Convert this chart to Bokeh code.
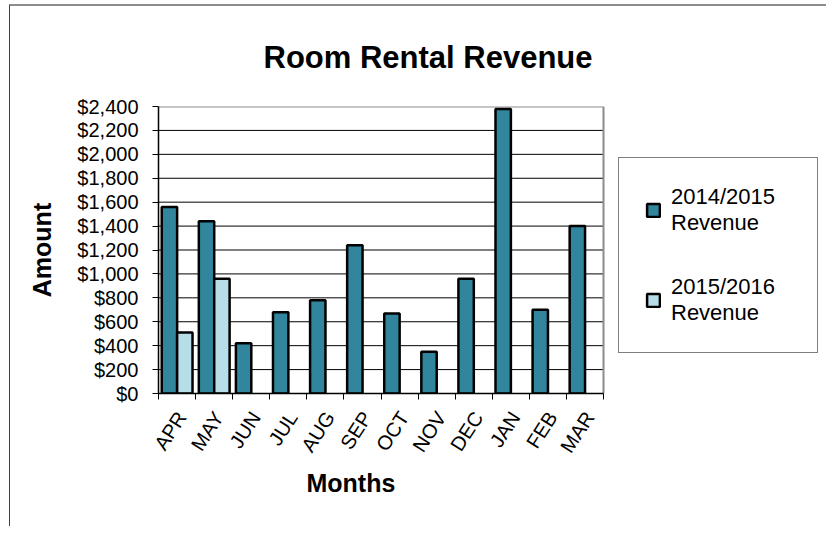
import math
import numpy as np
from bokeh.plotting import figure
from bokeh.models import (ColumnDataSource, FixedTicker, NumeralTickFormatter, Title,
                          Legend, LegendItem, Range1d)
from bokeh.transform import dodge
from bokeh.embed import file_html
from bokeh.resources import INLINE

# ---- data ----
months = ["APR", "MAY", "JUN", "JUL", "AUG", "SEP", "OCT", "NOV", "DEC", "JAN", "FEB", "MAR"]
rev_2014_15 = [1560, 1440, 420, 680, 780, 1240, 670, 350, 960, 2380, 700, 1400]
rev_2015_16 = [510, 960, None, None, None, None, None, None, None, None, None, None]
series_names = ["2014/2015\nRevenue", "2015/2016\nRevenue"]
y_ticks = list(range(0, 2401, 200))
title_text = "Room Rental Revenue"
x_title = "Months"
y_title = "Amount"

FONT = "Liberation Sans"
DARK = "#31859C"
LIGHT = "#B7DEE8"
GRAY = "#8c8c8c"

n = len(months)
centers = [i + 0.5 for i in range(n)]
src1 = ColumnDataSource(dict(x=centers, top=rev_2014_15, m=months))
idx2 = [i for i, v in enumerate(rev_2015_16) if v is not None]
src2 = ColumnDataSource(dict(x=[centers[i] for i in idx2], top=[rev_2015_16[i] for i in idx2]))

# layout (pixels)
W, H = 817, 522
LEFT, TOP, BOTTOM = 148, 100, 135
PLOT_W = 445  # width of the bar area; the rest of the frame holds the legend
FRAME_W = W - LEFT
x_end = n * FRAME_W / PLOT_W
LABEL_SHIFT = 0.12  # month labels sit slightly right of the category centre

p = figure(width=W, height=H, output_backend="svg", toolbar_location=None,
           x_range=Range1d(0, x_end), y_range=Range1d(0, y_ticks[-1]),
           min_border_left=LEFT, min_border_right=0, min_border_top=TOP, min_border_bottom=BOTTOM)
p.margin = (4, 0, 0, 9)
p.styles = {"border-top": "2px solid #8c8c8c", "border-left": "1px solid #404040"}
p.background_fill_color = "white"
p.border_fill_color = "white"
p.outline_line_color = None
p.xgrid.visible = False
p.ygrid.visible = False

# gridlines and plot-area border
p.segment(x0=[0] * (len(y_ticks) - 1), x1=[n] * (len(y_ticks) - 1), y0=y_ticks[:-1], y1=y_ticks[:-1],
          line_color="black", line_width=1)
p.segment(x0=[0, n], x1=[n, n], y0=[y_ticks[-1], 0], y1=[y_ticks[-1], y_ticks[-1]],
          line_color=GRAY, line_width=2)

r1 = p.vbar(x=dodge("x", -0.205), top="top", width=0.415, source=src1,
            fill_color=DARK, line_color="black", line_width=2.5)
r2 = p.vbar(x=dodge("x", 0.21), top="top", width=0.415, source=src2,
            fill_color=LIGHT, line_color="black", line_width=2.5)

# title
p.add_layout(Title(text=title_text, align="left", offset=105, standoff=63,
                   text_font=FONT, text_font_size="31px", text_font_style="bold",
                   text_color="black"), "above")

# x axis
label_pos = [c + LABEL_SHIFT for c in centers]
xa = p.xaxis[0]
xa.bounds = (0, n)
xa.ticker = FixedTicker(ticks=label_pos, minor_ticks=list(range(n + 1)))
xa.major_label_overrides = {c: m for c, m in zip(label_pos, months)}
xa.major_tick_out = 0
xa.major_tick_in = 0
xa.minor_tick_out = 6
xa.minor_tick_in = 0
xa.minor_tick_line_color = "black"
xa.axis_line_color = "black"
xa.axis_line_width = 1.5
xa.major_label_orientation = math.radians(57)
xa.major_label_text_font = FONT
xa.major_label_text_font_size = "20px"
xa.major_label_text_color = "black"
xa.major_label_standoff = 14

p.add_layout(Title(text=x_title, align="left", offset=148, standoff=2,
                   text_font=FONT, text_font_size="25px", text_font_style="bold",
                   text_color="black"), "below")

# y axis
ya = p.yaxis[0]
ya.ticker = FixedTicker(ticks=y_ticks)
ya.formatter = NumeralTickFormatter(format="$0,0")
ya.major_tick_out = 6
ya.major_tick_in = 0
ya.minor_tick_line_color = None
ya.axis_line_color = "black"
ya.axis_line_width = 1.5
ya.major_label_text_font = FONT
ya.major_label_text_font_size = "20px"
ya.major_label_text_color = "black"
ya.major_label_standoff = 14
ya.axis_label = y_title
ya.axis_label_text_font = FONT
ya.axis_label_text_font_size = "25px"
ya.axis_label_text_font_style = "bold"
ya.axis_label_text_color = "black"
ya.axis_label_standoff = 18

legend = Legend(items=[LegendItem(label=series_names[0], renderers=[r1]),
                       LegendItem(label=series_names[1], renderers=[r2])],
                location=(460, 40), orientation="vertical",
                label_text_font=FONT, label_text_font_size="22px", label_text_color="black",
                glyph_width=16, glyph_height=16, label_standoff=10, label_width=120,
                spacing=38, padding=26, margin=0,
                border_line_color="black", border_line_width=1,
                background_fill_color="white", background_fill_alpha=1)
p.add_layout(legend)

open("out.html", "w").write(file_html(p, INLINE))
